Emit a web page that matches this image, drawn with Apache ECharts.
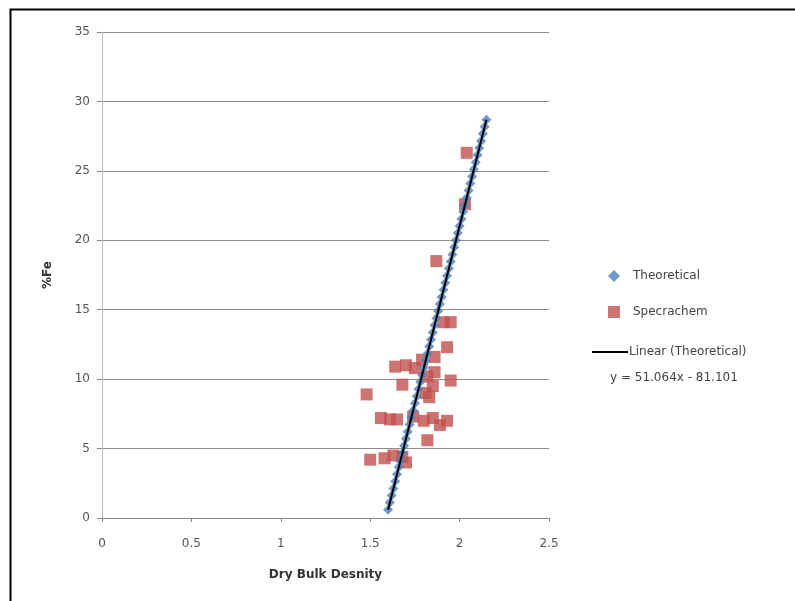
<!DOCTYPE html>
<html>
<head>
<meta charset="utf-8">
<script src="https://cdn.jsdelivr.net/npm/echarts@6/dist/echarts.min.js"></script>
<style>
html,body{margin:0;padding:0;background:#fff;}
#c{width:795px;height:601px;}
</style>
</head>
<body>
<div id="c"></div>
<script>
// X axis ticks / labels
var xTicks = [0, 0.5, 1, 1.5, 2, 2.5];
var yTicks = [0, 5, 10, 15, 20, 25, 30, 35];

// Theoretical series (Dry Bulk Density, %Fe)
var theoX = [1.60,1.61,1.62,1.63,1.64,1.65,1.66,1.67,1.68,1.69,1.70,1.71,1.72,1.73,1.74,1.75,1.76,1.77,1.78,1.79,1.80,1.81,1.82,1.83,1.84,1.85,1.86,1.87,1.88,1.89,1.90,1.91,1.92,1.93,1.94,1.95,1.96,1.97,1.98,1.99,2.00,2.01,2.02,2.03,2.04,2.05,2.06,2.07,2.08,2.09,2.10,2.11,2.12,2.13,2.14,2.15];
var theoY = [0.601,1.112,1.623,2.133,2.644,3.155,3.665,4.176,4.687,5.197,5.708,6.218,6.729,7.240,7.750,8.261,8.772,9.282,9.793,10.304,10.814,11.325,11.835,12.346,12.857,13.367,13.878,14.389,14.899,15.410,15.921,16.431,16.942,17.453,17.963,18.474,18.984,19.495,20.006,20.516,21.027,21.538,22.048,22.559,23.070,23.580,24.091,24.601,25.112,25.623,26.133,26.644,27.155,27.665,28.176,28.687];

// Specrachem measurements
var specX = [2.04,2.03,1.87,1.91,1.95,1.93,1.86,1.79,1.64,1.70,1.75,1.86,1.82,1.95,1.68,1.85,1.81,1.48,1.83,1.74,1.56,1.61,1.65,1.80,1.85,1.93,1.89,1.82,1.63,1.58,1.50,1.68,1.70];
var specY = [26.3,22.6,18.5,14.1,14.1,12.3,11.6,11.4,10.9,11.0,10.8,10.5,10.2,9.9,9.6,9.5,9.0,8.9,8.7,7.3,7.2,7.1,7.1,7.0,7.2,7.0,6.7,5.6,4.5,4.3,4.2,4.4,4.0];

// Linear trendline (Theoretical): y = 51.064x - 81.101
var lineX = [1.60, 2.15];
var lineY = [0.601, 28.687];
var equationText = 'y = 51.064x - 81.101';

function zip(a, b) { return a.map(function (v, i) { return [v, b[i]]; }); }

var FONT = 'DejaVu Sans';
var chart = echarts.init(document.getElementById('c'), null, {renderer: 'canvas'});
chart.setOption({
  backgroundColor: '#ffffff',
  animation: false,
  textStyle: {fontFamily: FONT},
  grid: {left: 102, top: 32, right: 246, bottom: 83, containLabel: false},
  xAxis: {
    type: 'value', min: xTicks[0], max: xTicks[xTicks.length - 1], interval: 0.5,
    name: 'Dry Bulk Desnity', nameLocation: 'middle', nameGap: 51,
    nameTextStyle: {fontFamily: FONT, fontSize: 12, fontWeight: 'bold', color: '#333'},
    axisLine: {show: true, lineStyle: {color: '#888', width: 1}},
    axisTick: {show: true, length: 4, lineStyle: {color: '#888'}},
    axisLabel: {fontFamily: FONT, fontSize: 12, color: '#555', margin: 20},
    splitLine: {show: false}
  },
  yAxis: {
    type: 'value', min: yTicks[0], max: yTicks[yTicks.length - 1], interval: 5,
    name: '%Fe', nameLocation: 'middle', nameGap: 48, nameRotate: 90,
    nameTextStyle: {fontFamily: FONT, fontSize: 12, fontWeight: 'bold', color: '#333'},
    axisLine: {show: true, lineStyle: {color: '#bbb', width: 1}},
    axisTick: {show: true, length: 5, lineStyle: {color: '#888'}},
    axisLabel: {fontFamily: FONT, fontSize: 12, color: '#555', margin: 12},
    splitLine: {show: true, lineStyle: {color: '#8c8c8c', width: 1}}
  },
  legend: [
    {
      orient: 'vertical', left: 603, top: 265, itemGap: 24, itemWidth: 12, itemHeight: 12,
      textStyle: {fontFamily: FONT, fontSize: 12, color: '#444', padding: [0, 0, 0, 8]},
      data: [
        {name: 'Theoretical', icon: 'diamond', itemStyle: {color: '#4a7ebb'}},
        {name: 'Specrachem', icon: 'rect', itemStyle: {color: '#c0504d'}}
      ]
    },
    {
      orient: 'vertical', left: 587, top: 341, itemWidth: 36, itemHeight: 12,
      textStyle: {fontFamily: FONT, fontSize: 12, color: '#444', padding: [0, 0, 0, -4]},
      data: [
        {name: 'Linear (Theoretical)', icon: 'path://M0,0 L36,0 L36,2 L0,2 Z', itemStyle: {color: '#000'}}
      ]
    }
  ],
  graphic: [
    {type: 'text', left: 610, top: 372, style: {text: equationText, font: '12px "' + FONT + '"', fill: '#444'}},
    {type: 'rect', shape: {x: 10.5, y: 9.5, width: 800, height: 600}, style: {fill: 'none', stroke: '#000', lineWidth: 2}, silent: true}
  ],
  series: [
    {
      name: 'Specrachem', type: 'scatter', symbol: 'rect', symbolSize: 12, z: 2,
      itemStyle: {color: '#c0504d'},
      data: zip(specX, specY)
    },
    {
      name: 'Theoretical', type: 'scatter', symbol: 'diamond', symbolSize: 10, z: 3,
      itemStyle: {color: '#4a7ebb'},
      data: zip(theoX, theoY)
    },
    {
      name: 'Linear (Theoretical)', type: 'line', z: 4, symbol: 'none',
      lineStyle: {color: '#000', width: 2},
      data: zip(lineX, lineY)
    }
  ]
});
</script>
</body>
</html>
